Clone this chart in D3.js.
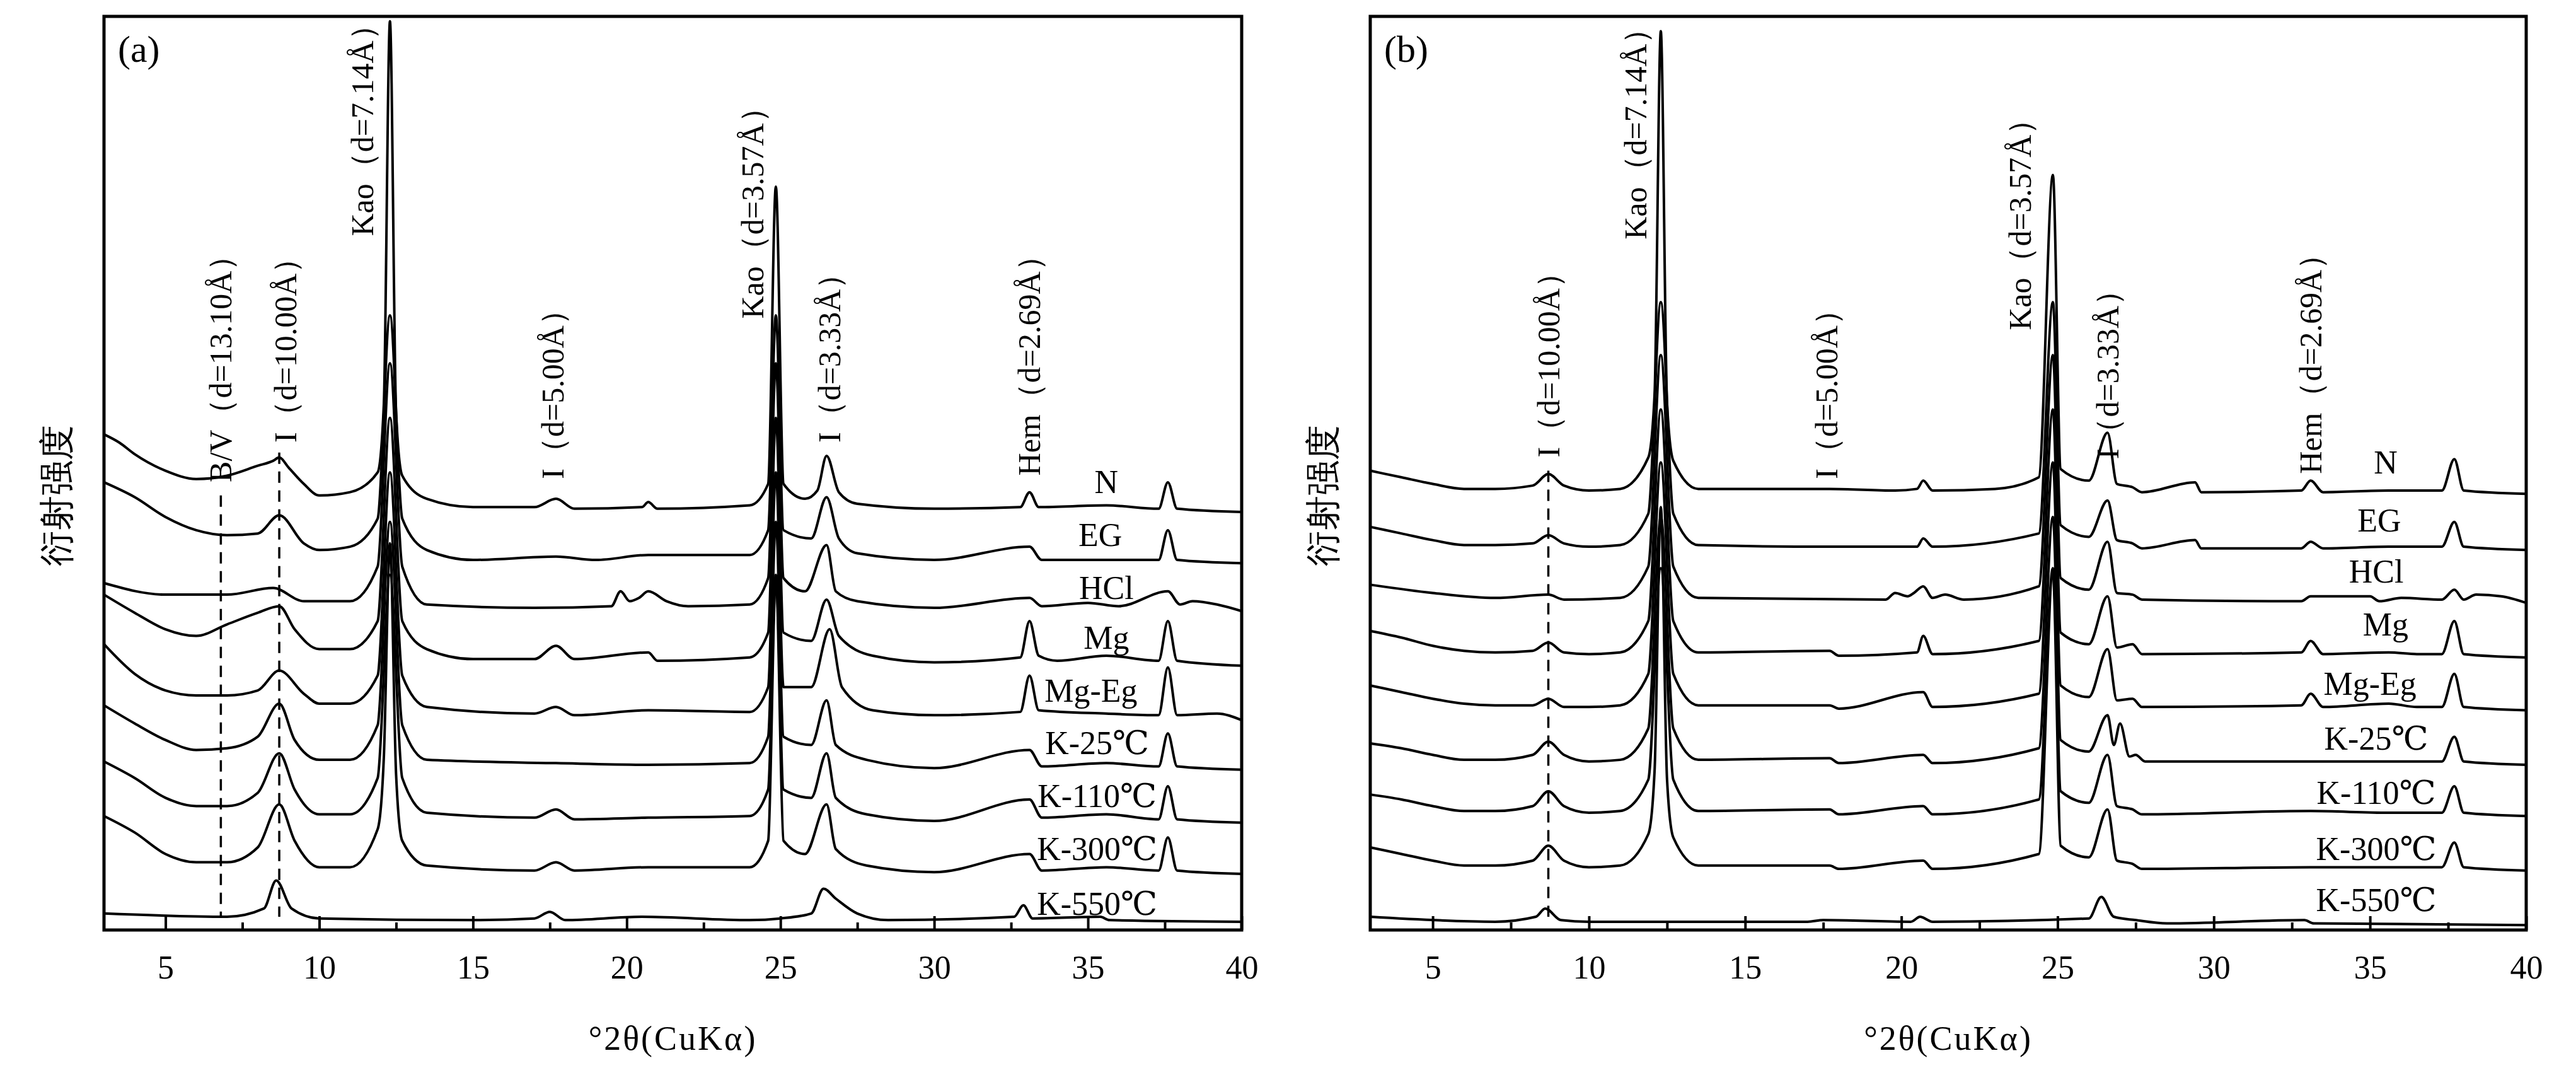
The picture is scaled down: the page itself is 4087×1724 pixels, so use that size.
<!DOCTYPE html>
<html lang="en">
<head>
<meta charset="UTF-8">
<title>XRD patterns</title>
<script src="https://d3js.org/d3.v7.min.js"></script>
<style>
  body { margin: 0; background: #fff; }
  svg { display: block; }
  text { font-family: "Liberation Serif", "DejaVu Serif", serif; fill: #000; }
</style>
</head>
<body>
<svg id="chart" width="4087" height="1724"></svg>
<script>
// values: [2theta, height above the trace baseline]; base = trace level at 40 deg
// (units are picture units, 0 = bottom of the frame)
const panels = [
  {
    name: "(a)", left: 165, right: 1970,
    traces: [
      {label: "N", base: 253, lx: 35.6, ly: 271, pts: [[3,47],[3.5,42],[4,35],[5,25],[6,20],[7,22],[8,28],[8.5,31],[8.7,33],[9,27],[9.5,17],[10,10],[11,12],[11.9,24],[12.1,65],[12.3,297],[12.5,60],[12.7,22],[13.5,8],[15,3],[17,3],[17.7,8],[18.3,2],[20.5,3],[20.7,6],[21,2],[24,4],[24.6,17],[24.85,197],[25.1,17],[25.8,8],[26.2,13],[26.5,34],[26.9,12],[27.5,5],[30,2],[32.8,3],[33.1,12],[33.4,3],[35.6,4],[37.3,2],[37.6,18],[37.9,2],[40,0]]},
      {label: "EG", base: 222, lx: 35.4, ly: 239, pts: [[3,49],[4,40],[5,28],[6,20],[7,17],[8,18],[8.7,29],[9.5,12],[10,8],[11,10],[11.9,27],[12.3,150],[12.7,27],[13.5,8],[15,2],[17.7,4],[19,2],[20.7,5],[24,5],[24.6,20],[24.85,150],[25.1,20],[26,15],[26.5,40],[26.9,15],[27.5,6],[30,2],[33.1,10],[33.5,2],[37.3,2],[37.6,20],[37.9,2],[40,0]]},
      {label: "HCl", base: 193, lx: 35.6, ly: 207, pts: [[3,17],[5,10],[7,10],[8.5,14],[9.5,6],[11,6],[11.9,27],[12.3,150],[12.7,27],[13.5,4],[17,2],[19.5,3],[19.8,12],[20.1,6],[20.4,8],[20.7,12],[21.3,6],[22,3],[24,4],[24.6,20],[24.85,150],[25.1,20],[25.8,12],[26.5,40],[26.8,12],[27.5,6],[30,2],[33.1,8],[33.5,3],[35,5],[36,3],[37.6,12],[38,4],[38.4,6],[39.2,4],[40,0]]},
      {label: "Mg", base: 160, lx: 35.6, ly: 177, pts: [[3,43],[4,32],[5,22],[6,18],[7,25],[8,32],[8.7,36],[9.2,22],[10,10],[11,10],[11.9,27],[12.3,150],[12.7,27],[13.5,10],[15,4],[17,4],[17.7,12],[18.3,4],[20.7,8],[21,3],[24,5],[24.6,20],[24.85,150],[25.1,20],[26,15],[26.5,40],[26.9,18],[28,6],[30,2],[32.8,5],[33.1,27],[33.4,6],[34,3],[35.6,6],[37.3,3],[37.6,27],[37.9,3],[40,0]]},
      {label: "Mg-Eg", base: 127, lx: 35.1, ly: 145, pts: [[3,46],[4,28],[5,18],[6,15],[7,15],[8,18],[8.7,30],[9.5,16],[10,10],[11,10],[11.9,27],[12.3,150],[12.7,27],[13.5,8],[17,4],[17.7,8],[18.3,3],[20.7,6],[24,5],[24.6,20],[24.85,150],[25.1,20],[26,20],[26.6,55],[27,20],[28,6],[30,3],[32.8,5],[33.1,27],[33.4,6],[35.6,4],[37.3,3],[37.6,32],[37.9,3],[39.2,4],[40,0]]},
      {label: "K-25℃", base: 97, lx: 35.3, ly: 113, pts: [[3,39],[4,28],[5,18],[6,12],[7,13],[8,20],[8.7,40],[9.2,18],[10,6],[11,6],[11.9,27],[12.3,150],[12.7,27],[13.5,6],[17.7,4],[20.7,3],[24,4],[24.6,20],[24.85,150],[25.1,20],[26,15],[26.5,42],[26.8,15],[27.8,6],[30,1],[33.1,12],[33.5,2],[35.6,4],[37.3,2],[37.6,22],[37.9,2],[40,0]]},
      {label: "K-110℃", base: 65, lx: 35.3, ly: 81, pts: [[3,37],[4,27],[5,15],[6,10],[7,10],[8,18],[8.7,42],[9.2,20],[10,5],[11,5],[11.9,27],[12.3,150],[12.7,27],[13.5,6],[17,3],[17.7,8],[18.3,2],[20.7,3],[24,4],[24.6,20],[24.85,150],[25.1,20],[26,15],[26.5,42],[26.8,15],[27.8,5],[30,1],[33.1,14],[33.5,3],[35.6,5],[37.3,2],[37.6,22],[37.9,2],[40,0]]},
      {label: "K-300℃", base: 34, lx: 35.3, ly: 49, pts: [[3,35],[4,25],[5,12],[6,7],[7,7],[8,16],[8.7,42],[9.2,20],[10,4],[11,4],[11.9,27],[12.1,70],[12.3,200],[12.5,60],[12.7,20],[13.5,5],[17,2],[17.7,7],[18.3,2],[20.7,4],[24,4],[24.6,20],[24.85,180],[25.1,20],[25.8,12],[26.5,42],[26.8,15],[27.8,5],[30,1],[33.1,12],[33.5,2],[35.6,4],[37.3,2],[37.6,22],[37.9,2],[40,0]]},
      {label: "K-550℃", base: 5, lx: 35.3, ly: 16, pts: [[3,5],[7,3],[8.2,8],[8.6,25],[9.1,8],[10,2],[15,1],[17,2],[17.5,6],[18,1],[20.5,3],[24,1],[25,2],[26,5],[26.4,20],[26.8,14],[27.5,5],[28.5,1],[32.6,3],[32.9,10],[33.2,2],[35.4,3],[35.7,1],[40,0]]}
    ],
    notes: [
      {t: "B/V（d=13.10Å）", x: 6.8, y: 271},
      {t: "I（d=10.00Å）", x: 8.9, y: 295},
      {t: "Kao（d=7.14Å）", x: 11.4, y: 420},
      {t: "I（d=5.00Å）", x: 17.6, y: 273},
      {t: "Kao（d=3.57Å）", x: 24.1, y: 370},
      {t: "I（d=3.33Å）", x: 26.6, y: 295},
      {t: "Hem（d=2.69Å）", x: 33.1, y: 275}
    ],
    dashes: [{x: 6.8, y0: 263, y1: 8}, {x: 8.7, y0: 289, y1: 8}]
  },
  {
    name: "(b)", left: 2174, right: 4008,
    traces: [
      {label: "N", base: 264, lx: 35.5, ly: 283, pts: [[3,14],[4,10],[5,6],[6,3],[7,3],[8.2,5],[8.7,12],[9.2,5],[10,2],[11,3],[11.9,22],[12.1,60],[12.3,280],[12.5,55],[12.7,20],[13.5,3],[17.7,3],[19.8,2],[20.5,3],[20.7,8],[21,2],[23,3],[24.4,10],[24.85,193],[25.1,15],[26,8],[26.6,37],[26.9,6],[27.4,4],[27.7,1],[29.4,7],[29.6,1],[32.8,2],[33.1,8],[33.5,1],[35.6,2],[36.5,2],[37.3,2],[37.7,21],[38,2],[40,0]]},
      {label: "EG", base: 230, lx: 35.3, ly: 248, pts: [[3,14],[4,10],[5,6],[6,3],[7,3],[8.2,4],[8.7,9],[9.2,4],[10,2],[11,3],[11.9,22],[12.3,150],[12.7,22],[13.5,3],[17.7,2],[20.5,2],[20.7,7],[21,2],[24.4,10],[24.85,150],[25.1,15],[26,8],[26.6,30],[26.9,6],[27.4,4],[27.7,1],[29.4,6],[29.6,1],[32.8,1],[33.1,5],[33.5,1],[35.6,2],[37.3,2],[37.7,17],[38,2],[40,0]]},
      {label: "HCl", base: 198, lx: 35.2, ly: 217, pts: [[3,11],[5,6],[7,3],[8.7,5],[9.2,2],[11,3],[11.9,22],[12.3,150],[12.7,22],[13.5,3],[19.5,2],[19.8,6],[20.2,4],[20.4,6],[20.7,10],[21,3],[21.4,5],[22,2],[24.4,10],[24.85,150],[25.1,15],[26,8],[26.6,37],[26.9,6],[27.4,5],[27.7,2],[32.8,1],[33.1,4],[35,4],[35.3,1],[36,3],[37.3,2],[37.7,8],[38,2],[38.4,5],[39.2,4],[40,0]]},
      {label: "Mg", base: 165, lx: 35.5, ly: 185, pts: [[3,16],[4,12],[5,7],[6,4],[7,3],[8.2,4],[8.7,9],[9.2,3],[10,2],[11,3],[11.9,22],[12.3,150],[12.7,22],[13.5,3],[17.7,4],[18,1],[20.5,3],[20.7,13],[21,2],[24.4,10],[24.85,150],[25.1,15],[26,8],[26.6,37],[26.9,6],[27.4,8],[27.7,2],[32.8,3],[33.1,10],[33.5,2],[35.6,3],[36.5,2],[37.3,2],[37.7,22],[38,2],[40,0]]},
      {label: "Mg-Eg", base: 133, lx: 35.0, ly: 149, pts: [[3,15],[4,11],[5,7],[6,4],[7,3],[8.2,3],[8.7,7],[9.2,2],[10,2],[11,3],[11.9,22],[12.3,150],[12.7,22],[13.5,3],[17.7,3],[18,1],[20.7,11],[21,2],[24.4,10],[24.85,150],[25.1,15],[26,8],[26.6,37],[26.9,6],[27.4,7],[27.7,2],[32.8,3],[33.1,10],[33.5,2],[35.6,4],[36.5,2],[37.3,2],[37.7,22],[38,2],[40,0]]},
      {label: "K-25℃", base: 100, lx: 35.2, ly: 116, pts: [[3,13],[4,10],[5,6],[6,3],[7,3],[8.2,6],[8.7,14],[9.2,6],[10,2],[11,3],[11.9,22],[12.3,150],[12.7,22],[13.5,3],[17.7,4],[18,1],[20.7,6],[21,1],[24.4,10],[24.85,150],[25.1,15],[26,8],[26.6,30],[26.8,12],[27.0,25],[27.3,5],[27.5,6],[27.8,2],[33.1,2],[37.3,2],[37.7,17],[38,2],[40,0]]},
      {label: "K-110℃", base: 69, lx: 35.2, ly: 83, pts: [[3,13],[4,10],[5,6],[6,3],[7,3],[8.2,6],[8.7,15],[9.2,6],[10,2],[11,3],[11.9,22],[12.3,150],[12.7,22],[13.5,3],[17.7,4],[18,1],[20.7,6],[21,1],[24.4,10],[24.85,150],[25.1,15],[26,8],[26.6,37],[26.9,6],[27.4,4],[27.7,1],[33.1,3],[35.6,2],[37.3,2],[37.7,18],[38,2],[40,0]]},
      {label: "K-300℃", base: 36, lx: 35.2, ly: 49, pts: [[3,14],[4,10],[5,6],[6,3],[7,3],[8.2,6],[8.7,15],[9.2,6],[10,2],[11,3],[11.9,22],[12.1,60],[12.3,220],[12.5,55],[12.7,20],[13.5,3],[17.7,3],[18,1],[20.7,6],[21,1],[24.4,10],[24.85,180],[25.1,15],[26,8],[26.6,37],[26.9,6],[27.4,4],[27.7,1],[33.1,2],[35.6,2],[37.3,2],[37.7,17],[38,2],[40,0]]},
      {label: "K-550℃", base: 3, lx: 35.2, ly: 18, pts: [[3,5],[7,2],[8.3,5],[8.6,10],[9.1,3],[10,2],[17,2],[17.5,3],[20.3,2],[20.6,5],[21,2],[26,4],[26.4,17],[26.8,5],[27.5,3],[28.5,1],[32.9,3],[33.2,1],[40,0]]}
    ],
    notes: [
      {t: "I（d=10.00Å）", x: 8.7, y: 286},
      {t: "Kao（d=7.14Å）", x: 11.5, y: 418},
      {t: "I（d=5.00Å）", x: 17.6, y: 273},
      {t: "Kao（d=3.57Å）", x: 23.8, y: 363},
      {t: "I（d=3.33Å）", x: 26.6, y: 285},
      {t: "Hem（d=2.69Å）", x: 33.1, y: 276}
    ],
    dashes: [{x: 8.7, y0: 278, y1: 8}]
  }
];

const svg = d3.select("#chart");
const plotTop = 26, plotBottom = 1475;

panels.forEach(p => {
  const x = d3.scaleLinear().domain([3, 40]).range([p.left, p.right]);
  const y = d3.scaleLinear().domain([0, 553]).range([plotBottom, plotTop]);
  const g = svg.append("g");

  // axis with inward ticks
  const ax = g.append("g")
    .attr("transform", `translate(0,${plotBottom})`)
    .call(d3.axisBottom(x).tickValues(d3.range(5, 41, 5)).tickSizeInner(-22).tickSizeOuter(0).tickPadding(40));
  ax.select(".domain").remove();
  ax.selectAll("line").attr("stroke-width", 4);
  ax.selectAll("text").attr("font-size", 52).attr("font-family", "Liberation Serif");
  g.append("g")
    .attr("transform", `translate(0,${plotBottom})`)
    .call(d3.axisBottom(x).tickValues(d3.range(7.5, 40, 5)).tickSize(-12).tickFormat(""))
    .call(s => { s.select(".domain").remove(); s.selectAll("line").attr("stroke-width", 4); });

  const line = d3.line().x(d => x(d[0])).y(d => y(d[1])).curve(d3.curveMonotoneX);
  p.traces.forEach(t => {
    g.append("path")
      .datum(t.pts.map(d => [d[0], d[1] + t.base]))
      .attr("d", line)
      .attr("fill", "none")
      .attr("stroke", "#000")
      .attr("stroke-width", 4)
      .attr("stroke-linejoin", "round");
    g.append("text")
      .attr("x", x(t.lx)).attr("y", y(t.ly))
      .attr("text-anchor", "middle").attr("dominant-baseline", "central")
      .attr("font-size", 52).text(t.label);
  });

  p.dashes.forEach(d => {
    g.append("line")
      .attr("x1", x(d.x)).attr("x2", x(d.x))
      .attr("y1", y(d.y0)).attr("y2", y(d.y1))
      .attr("stroke", "#000").attr("stroke-width", 3.5)
      .attr("stroke-dasharray", "18,12");
  });

  p.notes.forEach(n => {
    g.append("text")
      .attr("transform", `translate(${x(n.x)},${y(n.y)}) rotate(-90)`)
      .attr("dominant-baseline", "central")
      .attr("font-size", 50).text(n.t);
  });

  // frame
  g.append("rect")
    .attr("x", p.left).attr("y", plotTop)
    .attr("width", p.right - p.left).attr("height", plotBottom - plotTop)
    .attr("fill", "none").attr("stroke", "#000").attr("stroke-width", 5);

  g.append("text").attr("x", p.left + 22).attr("y", plotTop + 72)
    .attr("font-size", 60).text(p.name);

  g.append("text")
    .attr("x", (p.left + p.right) / 2).attr("y", 1665)
    .attr("text-anchor", "middle").attr("font-size", 54)
    .attr("letter-spacing", 3)
    .text("°2θ(CuKα)");

  g.append("text")
    .attr("transform", `translate(${p.left - 75},786) rotate(-90)`)
    .attr("text-anchor", "middle").attr("dominant-baseline", "central")
    .attr("font-family", "Noto Sans CJK SC").attr("font-size", 56)
    .text("衍射强度");
});
</script>
</body>
</html>
